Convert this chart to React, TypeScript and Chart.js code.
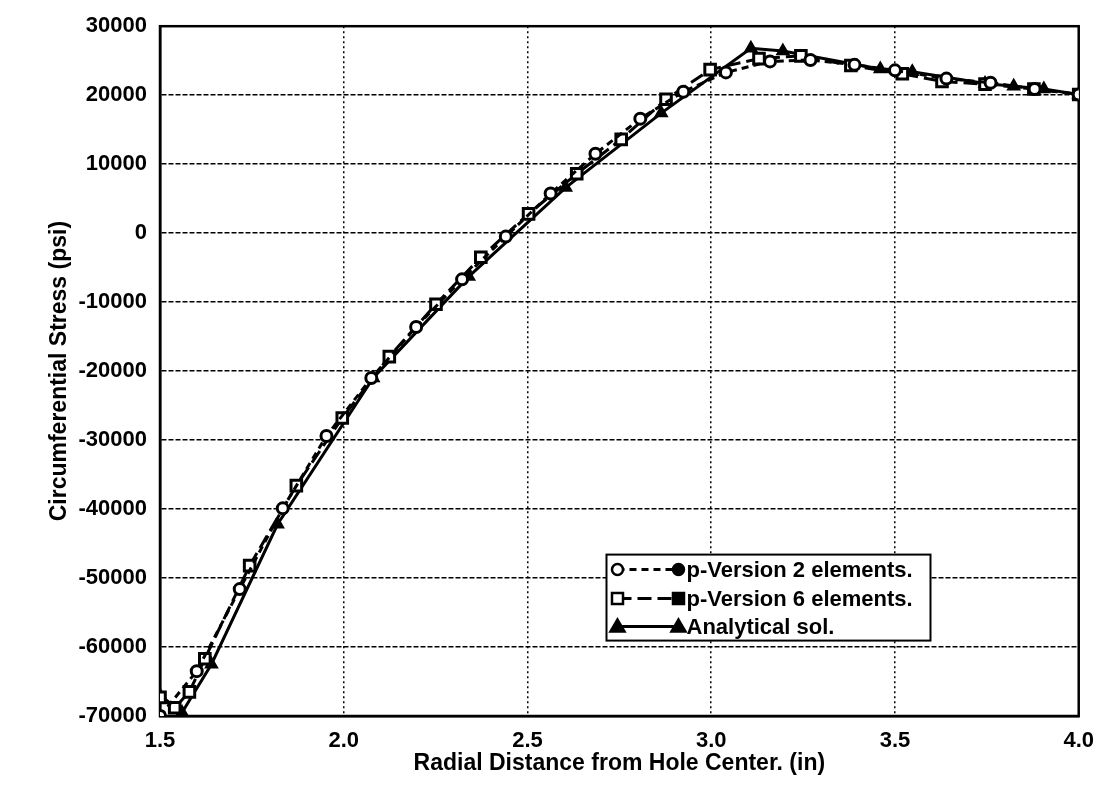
import React, { useEffect, useRef } from "react";
import { Chart, registerables } from "chart.js";

Chart.register(...registerables);

// p-Version 2 elements (circles)
const pv2X = [1.5, 1.6, 1.717, 1.834, 1.953, 2.075, 2.197, 2.322, 2.441, 2.563, 2.685, 2.807, 2.924, 3.04, 3.16, 3.27, 3.39, 3.5, 3.64, 3.76, 3.88, 4.0];
const pv2Y = [-70000, -63500, -51600, -39900, -29400, -21000, -13600, -6700, -500, 5750, 11500, 16600, 20500, 23300, 24900, 25100, 24400, 23600, 22400, 21800, 20900, 20100];

// p-Version 6 elements (squares)
const pv6X = [1.5, 1.54, 1.58, 1.622, 1.744, 1.871, 1.996, 2.124, 2.251, 2.373, 2.503, 2.634, 2.755, 2.877, 2.997, 3.13, 3.244, 3.38, 3.52, 3.628, 3.745, 3.878, 4.0];
const pv6Y = [-67300, -68800, -66500, -61700, -48200, -36600, -26800, -17900, -10300, -3500, 2800, 8600, 13600, 19400, 23700, 25300, 25700, 24300, 23100, 22000, 21600, 20900, 20100];

// Analytical solution (triangles)
const anX = [1.5, 1.56, 1.64, 1.82, 2.08, 2.34, 2.604, 2.864, 3.108, 3.195, 3.46, 3.547, 3.745, 3.823, 3.905, 4.0];
const anY = [-67000, -69500, -62500, -42200, -21000, -6300, 6600, 17400, 26800, 26400, 23800, 23400, 21700, 21300, 20900, 20100];

const xTicks = [1.5, 2.0, 2.5, 3.0, 3.5, 4.0];
const yTicks = [30000, 20000, 10000, 0, -10000, -20000, -30000, -40000, -50000, -60000, -70000];

const seriesLabels = ["p-Version 2 elements.", "p-Version 6 elements.", "Analytical sol."];
const xTitle = "Radial Distance from Hole Center. (in)";
const yTitle = "Circumferential Stress (psi)";

const FONT = '"Liberation Sans", Arial, Helvetica, sans-serif';

export default function App() {
  const ref = useRef<HTMLCanvasElement>(null);

  useEffect(() => {
    if (!ref.current) return;
    const toPts = (xs: number[], ys: number[]) => xs.map((x, i) => ({ x, y: ys[i] }));

    const framePlugin = {
      id: "frame",
      beforeDatasetsDraw(chart: any) {
        const { ctx, chartArea: a } = chart;
        ctx.save();
        ctx.strokeStyle = "#000";
        ctx.lineWidth = 2.5;
        ctx.setLineDash([]);
        ctx.strokeRect(a.left, a.top, a.right - a.left, a.bottom - a.top);
        ctx.restore();
      },
    };

    const drawMarker = (ctx: CanvasRenderingContext2D, style: string, x: number, y: number, filled: boolean) => {
      ctx.save();
      ctx.setLineDash([]);
      ctx.lineWidth = 2.5;
      ctx.strokeStyle = "#000";
      ctx.fillStyle = filled ? "#000" : "#fff";
      ctx.beginPath();
      if (style === "circle") {
        ctx.arc(x, y, 5.5, 0, Math.PI * 2);
      } else if (style === "rect") {
        ctx.rect(x - 5.5, y - 5.5, 11, 11);
      } else {
        ctx.moveTo(x, y - 7);
        ctx.lineTo(x + 7, y + 5);
        ctx.lineTo(x - 7, y + 5);
        ctx.closePath();
      }
      ctx.fill();
      ctx.stroke();
      ctx.restore();
    };

    const legendPlugin = {
      id: "boxLegend",
      afterDraw(chart: any) {
        const { ctx, chartArea: a } = chart;
        const w = a.right - a.left;
        const h = a.bottom - a.top;
        const bx = a.left + 0.486 * w;
        const by = a.top + 0.766 * h;
        const bw = 324;
        const bh = 86;
        ctx.save();
        ctx.fillStyle = "#fff";
        ctx.fillRect(bx, by, bw, bh);
        ctx.strokeStyle = "#000";
        ctx.lineWidth = 2;
        ctx.setLineDash([]);
        ctx.strokeRect(bx, by, bw, bh);
        const styles = ["circle", "rect", "triangle"];
        const dashes = [[7, 5], [14, 6], []];
        const rowY = [15, 44, 72];
        ctx.font = `bold 22px ${FONT}`;
        ctx.textBaseline = "middle";
        ctx.textAlign = "left";
        for (let i = 0; i < 3; i++) {
          const y = by + rowY[i];
          const x1 = bx + 11;
          const x2 = bx + 72;
          ctx.save();
          ctx.strokeStyle = "#000";
          ctx.lineWidth = 3;
          ctx.setLineDash(dashes[i]);
          ctx.beginPath();
          ctx.moveTo(x1, y);
          ctx.lineTo(x2, y);
          ctx.stroke();
          ctx.restore();
          drawMarker(ctx, styles[i], x1, y, styles[i] === "triangle");
          drawMarker(ctx, styles[i], x2, y, true);
          ctx.fillStyle = "#000";
          ctx.fillText(seriesLabels[i], bx + 80, y + 1);
        }
        ctx.restore();
      },
    };

    const chart = new Chart(ref.current, {
      type: "scatter",
      data: {
        datasets: [
          {
            label: seriesLabels[0],
            data: toPts(pv2X, pv2Y),
            showLine: true,
            borderColor: "#000",
            borderWidth: 3,
            borderDash: [7, 5],
            pointStyle: "circle",
            pointRadius: 5.5,
            pointBorderWidth: 3,
            pointBorderColor: "#000",
            pointBackgroundColor: "#fff",
          },
          {
            label: seriesLabels[1],
            data: toPts(pv6X, pv6Y),
            showLine: true,
            borderColor: "#000",
            borderWidth: 3,
            borderDash: [14, 6],
            pointStyle: "rect",
            pointRadius: 7.5,
            pointBorderWidth: 3,
            pointBorderColor: "#000",
            pointBackgroundColor: "#fff",
          },
          {
            label: seriesLabels[2],
            data: toPts(anX, anY),
            showLine: true,
            borderColor: "#000",
            borderWidth: 3,
            pointStyle: "triangle",
            pointRadius: 7,
            pointBorderWidth: 1.5,
            pointBorderColor: "#000",
            pointBackgroundColor: "#000",
          },
        ],
      },
      options: {
        animation: false,
        responsive: true,
        maintainAspectRatio: false,
        layout: { padding: { left: 0, right: 24, top: 19, bottom: 0 } },
        plugins: { legend: { display: false }, tooltip: { enabled: false } },
        elements: { line: { tension: 0 } },
        scales: {
          x: {
            type: "linear",
            min: 1.5,
            max: 4.0,
            afterBuildTicks: (s: any) => {
              s.ticks = xTicks.map((v) => ({ value: v }));
            },
            afterFit: (s: any) => {
              s.height = 75;
            },
            grid: { color: "#000", lineWidth: 1.5, drawTicks: false },
            border: { display: true, color: "#000", width: 2.5, dash: [2, 3] },
            ticks: {
              color: "#000",
              padding: 12,
              font: { family: FONT, size: 22, weight: "bold" },
              callback: (v: any) => Number(v).toFixed(1),
              maxRotation: 0,
            },
            title: {
              display: true,
              text: xTitle,
              color: "#000",
              font: { family: FONT, size: 23, weight: "bold" },
              padding: { top: 0, bottom: 14 },
            },
          },
          y: {
            type: "linear",
            min: -70000,
            max: 30000,
            afterBuildTicks: (s: any) => {
              s.ticks = yTicks.map((v) => ({ value: v }));
            },
            afterFit: (s: any) => {
              s.width = 160;
            },
            grid: { color: "#000", lineWidth: 1.5, drawTicks: false },
            border: { display: true, color: "#000", width: 2.5, dash: [5, 2] },
            ticks: {
              color: "#000",
              padding: 13,
              font: { family: FONT, size: 22, weight: "bold" },
              callback: (v: any) => String(v),
            },
            title: {
              display: true,
              text: yTitle,
              color: "#000",
              font: { family: FONT, size: 23, weight: "bold" },
              padding: { top: 46, bottom: 0 },
            },
          },
        },
      },
      plugins: [framePlugin, legendPlugin],
    } as any);

    return () => chart.destroy();
  }, []);

  return (
    <div style={{ position: "fixed", left: 0, top: 0, width: 1106, height: 791, background: "#fff" }}>
      <canvas ref={ref} />
    </div>
  );
}
